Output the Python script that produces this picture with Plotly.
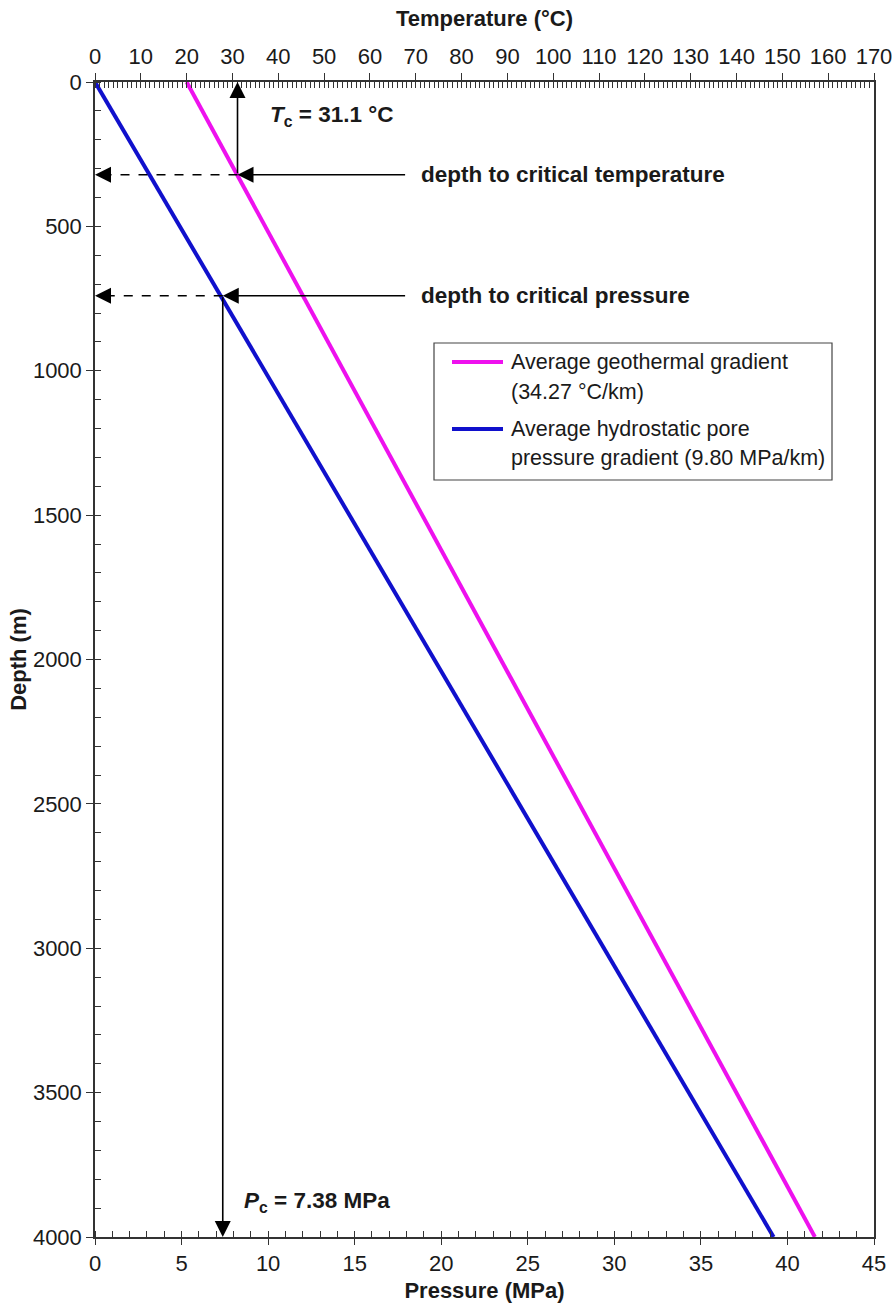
import plotly.graph_objects as go

# Depth profile end points (m) and the two gradients along it
depth_m = [0, 4000]
temperature_c = [20.0, 157.1]      # average geothermal gradient, 34.27 °C/km
pressure_mpa = [0.0, 39.2]         # hydrostatic pore pressure, 9.80 MPa/km

# CO2 critical point and the depths at which each profile reaches it
tc_value = 31.1
pc_value = 7.38
tc_depth = 321
pc_depth = 740

series_names = [
    ["Average geothermal gradient", "(34.27 °C/km)"],
    ["Average hydrostatic pore", "pressure gradient (9.80 MPa/km)"],
]
series_colors = ["#ee11ee", "#1010cc"]

FONT = "Liberation Sans, Arial, sans-serif"
INK = "#1a1a1a"
AXIS = "#333333"

# plot-area geometry in pixels, used to place the key box
L, R, T, B = 95, 22, 82, 66
W, H = 896, 1303
PW, PH = W - L - R, H - T - B


def px(xp):
    return (xp - L) / PW


def py(yp):
    return 1 - (yp - T) / PH


fig = go.Figure()

fig.add_trace(go.Scatter(
    x=temperature_c, y=depth_m, xaxis="x2", yaxis="y", mode="lines",
    line=dict(color=series_colors[0], width=4),
    name=" ".join(series_names[0]), showlegend=False,
))
fig.add_trace(go.Scatter(
    x=pressure_mpa, y=depth_m, xaxis="x", yaxis="y", mode="lines",
    line=dict(color=series_colors[1], width=4),
    name=" ".join(series_names[1]), showlegend=False,
))
# empty traces that keep the tick-only overlay axes alive
for xa, ya in (("x3", "y"), ("x4", "y"), ("x", "y2")):
    fig.add_trace(go.Scatter(x=[], y=[], xaxis=xa, yaxis=ya,
                             showlegend=False, hoverinfo="skip"))

tick_font = dict(family=FONT, size=22, color=INK)
title_font = dict(family=FONT, size=22, color=INK)

fig.update_layout(
    width=W, height=H,
    margin=dict(l=L, r=R, t=T, b=B, autoexpand=False),
    paper_bgcolor="white", plot_bgcolor="white",
    showlegend=False,
    xaxis=dict(
        range=[0, 45], dtick=5, side="bottom", anchor="y", automargin=False,
        showgrid=False, zeroline=False,
        showline=True, linecolor=AXIS, linewidth=1.5,
        ticks="outside", ticklen=6, tickwidth=1.3, tickcolor=AXIS,
        minor=dict(dtick=1, ticks="inside", ticklen=6, tickwidth=1.2, tickcolor=AXIS),
        tickfont=tick_font,
        title=dict(text="<b>Pressure (MPa)</b>", font=title_font, standoff=13),
    ),
    xaxis2=dict(
        range=[0, 170], dtick=10, side="top", overlaying="x", anchor="y", automargin=False,
        showgrid=False, zeroline=False,
        showline=True, linecolor=AXIS, linewidth=1.5,
        ticks="outside", ticklen=7, tickwidth=1.3, tickcolor=AXIS,
        minor=dict(dtick=1, ticks="inside", ticklen=6, tickwidth=1.1, tickcolor=AXIS),
        tickfont=tick_font,
        title=dict(text="<b>Temperature (°C)</b>", font=title_font, standoff=12),
    ),
    xaxis3=dict(
        range=[0, 45], dtick=5, side="bottom", overlaying="x", anchor="y", automargin=False,
        showgrid=False, zeroline=False, showline=False, showticklabels=False,
        ticks="inside", ticklen=6, tickwidth=1.3, tickcolor=AXIS,
    ),
    xaxis4=dict(
        range=[0, 170], dtick=10, side="top", overlaying="x", anchor="y", automargin=False,
        showgrid=False, zeroline=False, showline=False, showticklabels=False,
        ticks="inside", ticklen=6, tickwidth=1.3, tickcolor=AXIS,
    ),
    yaxis=dict(
        range=[4000, 0], dtick=500, anchor="x", automargin=False,
        showgrid=False, zeroline=False,
        showline=True, mirror=True, linecolor=AXIS, linewidth=1.5,
        ticks="outside", ticklen=7, tickwidth=1.3, tickcolor=AXIS,
        minor=dict(dtick=100, ticks="inside", ticklen=6, tickwidth=1.2, tickcolor=AXIS),
        tickfont=tick_font,
        title=dict(text="<b>Depth (m)</b>", font=title_font, standoff=0),
    ),
    yaxis2=dict(
        range=[4000, 0], dtick=500, overlaying="y", anchor="x", side="left", automargin=False,
        showgrid=False, zeroline=False, showline=False, showticklabels=False,
        ticks="inside", ticklen=4, tickwidth=1.3, tickcolor=AXIS,
    ),
)

ARROW = dict(showarrow=True, arrowhead=2, arrowsize=2.0, arrowwidth=1.6,
             arrowcolor="black", text="")

label_x = 18.7                       # left edge of the two depth labels (MPa)
arrow_tail = 18.0                    # start of the horizontal arrows (MPa)
arrow_tail_t = arrow_tail * 170 / 45  # same point on the temperature scale

label_font = dict(family=FONT, size=22.5, color=INK)
key_font = dict(family=FONT, size=21.5, color=INK)

annotations = [
    # critical temperature: up to the temperature axis
    dict(x=tc_value, y=0, xref="x2", yref="y",
         ax=tc_value, ay=tc_depth, axref="x2", ayref="y", **ARROW),
    # pointer from the label to the geotherm crossing
    dict(x=tc_value, y=tc_depth, xref="x2", yref="y",
         ax=arrow_tail_t, ay=tc_depth, axref="x2", ayref="y", **ARROW),
    # head of the dashed leader at the depth axis
    dict(x=0, y=tc_depth, xref="x", yref="y", ax=14, ay=0, **ARROW),
    # critical pressure: down to the pressure axis
    dict(x=pc_value, y=4000, xref="x", yref="y",
         ax=pc_value, ay=pc_depth, axref="x", ayref="y", **ARROW),
    dict(x=pc_value, y=pc_depth, xref="x", yref="y",
         ax=arrow_tail, ay=pc_depth, axref="x", ayref="y", **ARROW),
    dict(x=0, y=pc_depth, xref="x", yref="y", ax=14, ay=0, **ARROW),
    # labels
    dict(x=label_x, y=tc_depth, xref="x", yref="y", xanchor="left", yanchor="middle",
         showarrow=False, text="<b>depth to critical temperature</b>", font=label_font),
    dict(x=label_x, y=pc_depth, xref="x", yref="y", xanchor="left", yanchor="middle",
         showarrow=False, text="<b>depth to critical pressure</b>", font=label_font),
    dict(x=10.0, y=118, xref="x", yref="y", xanchor="left", yanchor="middle",
         showarrow=False, text=f"<b><i>T</i><sub>c</sub> = {tc_value} °C</b>",
         font=label_font),
    dict(x=8.5, y=3880, xref="x", yref="y", xanchor="left", yanchor="middle",
         showarrow=False, text=f"<b><i>P</i><sub>c</sub> = {pc_value} MPa</b>",
         font=label_font),
]

# key: boxed, one swatch per series, two text lines each
key_rows = [(362, 392), (429, 458)]
for (y1, y2), lines in zip(key_rows, series_names):
    for yp, line in zip((y1, y2), lines):
        annotations.append(dict(
            x=px(509), y=py(yp), xref="paper", yref="paper",
            xanchor="left", yanchor="middle", showarrow=False,
            text=line, font=key_font,
        ))
fig.update_layout(annotations=annotations)

fig.add_shape(type="rect", xref="paper", yref="paper",
              x0=px(434), x1=px(832), y0=py(343), y1=py(480),
              line=dict(color="#444444", width=1.2), fillcolor="white", layer="below")
for (y1, _), color in zip(key_rows, series_colors):
    fig.add_shape(type="line", xref="paper", yref="paper",
                  x0=px(452), x1=px(503), y0=py(y1), y1=py(y1),
                  line=dict(color=color, width=4))

# dashed leaders from each crossing back to the depth axis
fig.add_shape(type="line", xref="x2", yref="y", x0=tc_value, x1=1.5,
              y0=tc_depth, y1=tc_depth, line=dict(color="black", width=1.6, dash="dash"))
fig.add_shape(type="line", xref="x", yref="y", x0=pc_value, x1=0.4,
              y0=pc_depth, y1=pc_depth, line=dict(color="black", width=1.6, dash="dash"))

fig.write_html("out.html")
